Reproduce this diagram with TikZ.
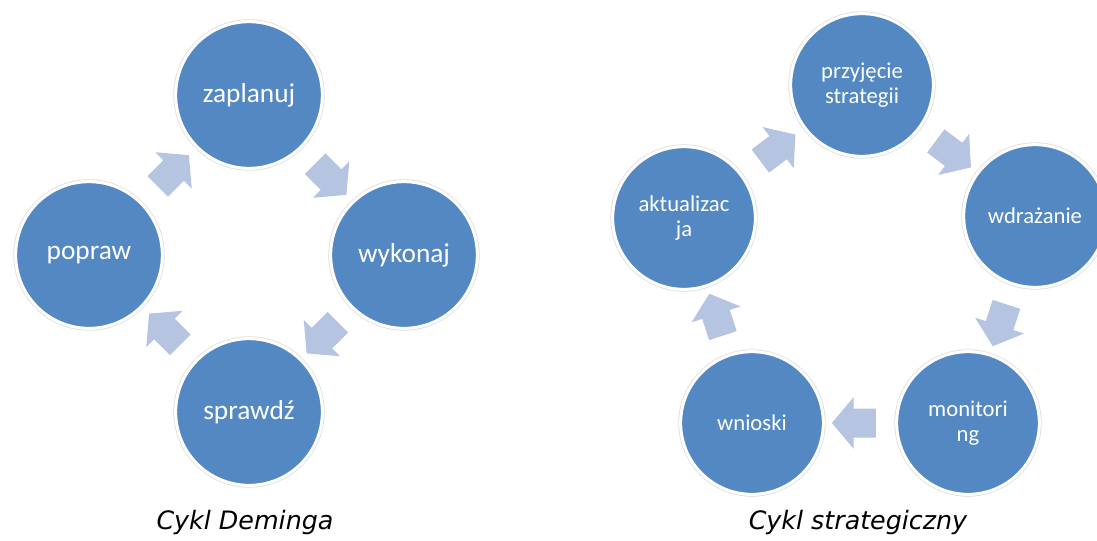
\documentclass[tikz,border=0pt]{standalone}
\usepackage{fontspec}
\setmainfont{Carlito}
\newfontfamily\captionfont{DejaVu Sans}
\usetikzlibrary{shapes.arrows,calc}
\definecolor{stageblue}{RGB}{83,136,194}
\definecolor{arrowblue}{RGB}{181,196,224}
\tikzset{every picture/.style={line width=0.75pt}}
\tikzset{
  stage/.style={circle, inner sep=0pt, fill=stageblue, draw=white, line width=2.25pt,
    preaction={draw=black!13, line width=3.5pt}, text=white, align=center},
  deming/.style={stage, minimum size=110pt, font=\fontsize{20.5}{24}\selectfont},
  strat/.style={stage, minimum size=107pt, font=\fontsize{17}{19}\selectfont},
  cyclearrow/.style={single arrow, fill=arrowblue, draw=none, minimum height=33pt,
    inner xsep=0pt, inner ysep=10.5pt, single arrow head extend=8.5pt, single arrow tip angle=100},
  cycletitle/.style={font=\captionfont\itshape\fontsize{19}{22}\selectfont, inner sep=0pt}
}

\begin{document}
\begin{tikzpicture}[x=0.75pt,y=0.75pt,yscale=-1,xscale=1]
\useasboundingbox (0,0) rectangle (1097,540);

%Shape: Circle - Deming cycle
\node[deming] (zaplanuj) at (249,95) {zaplanuj};
\node[deming] (wykonaj) at (404,255) {wykonaj};
\node[deming] (sprawdz) at (249,412) {sprawdź};
\node[deming] (popraw) at (89,255) {popraw};

%Block Arrows - Deming cycle
\node[cyclearrow, rotate=45] (arrpz) at ($(popraw)!0.5!(zaplanuj)$) {};
\node[cyclearrow, rotate=-45] (arrzw) at ($(zaplanuj)!0.5!(wykonaj)$) {};
\node[cyclearrow, rotate=-135] (arrws) at ($(wykonaj)!0.5!(sprawdz)$) {};
\node[cyclearrow, rotate=135] (arrsp) at ($(sprawdz)!0.5!(popraw)$) {};

%Shape: Circle - strategic cycle
\node[strat] (przyjecie) at (862,85) {przyjęcie\\strategii};
\node[strat] (wdrazanie) at (1035,216) {wdrażanie};
\node[strat] (monitoring) at (968,423) {monitori\\ng};
\node[strat] (wnioski) at (752,423) {wnioski};
\node[strat] (aktualizacja) at (684,218) {aktualizac\\ja};

%Block Arrows - strategic cycle
\node[cyclearrow, rotate=37] (arrap) at ($(aktualizacja)!0.5!(przyjecie)$) {};
\node[cyclearrow, rotate=-37] (arrpw) at ($(przyjecie)!0.5!(wdrazanie)$) {};
\node[cyclearrow, rotate=-108] (arrwm) at ($(wdrazanie)!0.5!(monitoring)$) {};
\node[cyclearrow, rotate=180] (arrmw) at ($(monitoring)!0.5!(wnioski)$) {};
\node[cyclearrow, rotate=108] (arrwa) at ($(wnioski)!0.5!(aktualizacja)$) {};

% Text Node
\node[cycletitle] (titledeming) at (245,523) {Cykl Deminga};
% Text Node
\node[cycletitle] (titlestrat) at (858,523) {Cykl strategiczny};

\end{tikzpicture}
\end{document}
